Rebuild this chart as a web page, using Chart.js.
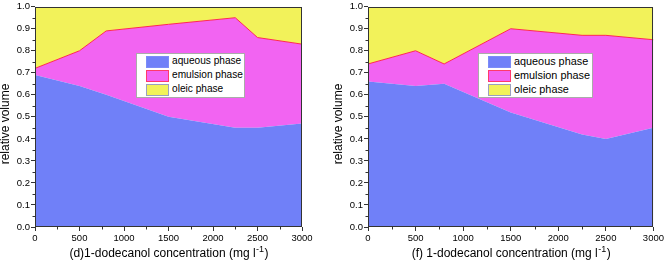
<!DOCTYPE html>
<html>
<head>
<meta charset="utf-8">
<script src="https://cdn.jsdelivr.net/npm/chart.js@4.4.0/dist/chart.umd.min.js"></script>
<style>
  body { margin: 0; background: #fff; }
  .panel { position: absolute; top: 0; width: 333px; height: 266px; }
  .legend { position: absolute; top: 53px; height: 43px; background: #fff; border: 1px solid #aaa;
            font-family: 'Liberation Sans', Arial, sans-serif; color: #000; }
  .legend .row { position: absolute; left: 9px; height: 12px; white-space: nowrap; }
  .legend .sw { position: absolute; left: 0; top: 0; width: 21px; height: 10px; border: 1px solid; }
  .legend .txt { position: absolute; top: -2px; line-height: 14px; }
</style>
</head>
<body>
<div class="panel" id="panelD" style="left:0"><canvas id="chartD"></canvas></div>
<div class="panel" id="panelF" style="left:333px"><canvas id="chartF"></canvas></div>
<script>
// 1-dodecanol concentration (mg/l)
const concentration = [0, 500, 800, 1500, 2250, 2500, 3000];

// (d): boundaries of the stacked phases (relative volume)
const aqueousD     = [0.69, 0.64, 0.60, 0.50, 0.45, 0.45, 0.47];
const emulsionTopD = [0.72, 0.80, 0.89, 0.92, 0.95, 0.86, 0.83];

// (f)
const aqueousF     = [0.66, 0.64, 0.65, 0.52, 0.42, 0.40, 0.45];
const emulsionTopF = [0.74, 0.80, 0.74, 0.90, 0.87, 0.87, 0.85];

const oleicTop = [1, 1, 1, 1, 1, 1, 1];

const phaseNames = ['aqueous phase', 'emulsion phase', 'oleic phase'];
const phaseColors = ['#7080f8', '#f264f2', '#f2f25a'];
const swatchBorders = ['#7c8cf8', '#ff3a6a', '#9aa0c0'];

const FONT = "'Liberation Sans', Arial, sans-serif";

function pts(ys) {
    return concentration.map((c, i) => ({x: c, y: ys[i]}));
}

// frame, minor ticks, axis titles (with superscript)
const decorPlugin = {
    id: 'decor',
    afterDraw(chart, args, opts) {
        const {ctx, chartArea: a, scales: {x, y}} = chart;
        ctx.save();
        ctx.strokeStyle = '#333';
        ctx.lineWidth = 1;
        ctx.beginPath();
        for (let v = 250; v < 3000; v += 500) {
            const px = Math.round(x.getPixelForValue(v)) + 0.5;
            ctx.moveTo(px, a.bottom); ctx.lineTo(px, a.bottom + 2.5);
        }
        for (let v = 0.05; v < 1; v += 0.1) {
            const py = Math.round(y.getPixelForValue(v)) + 0.5;
            ctx.moveTo(a.left, py); ctx.lineTo(a.left - 2.5, py);
        }
        ctx.stroke();
        ctx.strokeRect(Math.round(a.left) + 0.5, Math.round(a.top) + 0.5,
            Math.round(a.right - a.left) - 1, Math.round(a.bottom - a.top) - 1);

        ctx.fillStyle = '#000';
        // y title
        ctx.save();
        ctx.translate(6, 124);
        ctx.rotate(-Math.PI / 2);
        ctx.font = '12px ' + FONT;
        ctx.textAlign = 'center';
        ctx.textBaseline = 'middle';
        ctx.fillText('relative volume', 0, 0);
        ctx.restore();

        // x title
        const main = opts.xTitle + ' (mg l';
        const sup = '-1';
        const close = ')';
        ctx.font = '12px ' + FONT;
        const w1 = ctx.measureText(main).width;
        const w3 = ctx.measureText(close).width;
        ctx.font = '9px ' + FONT;
        const w2 = ctx.measureText(sup).width;
        let tx = (a.left + a.right) / 2 - (w1 + w2 + w3) / 2;
        const base = 257;
        ctx.textBaseline = 'alphabetic';
        ctx.textAlign = 'left';
        ctx.font = '12px ' + FONT;
        ctx.fillText(main, tx, base);
        ctx.font = '9px ' + FONT;
        ctx.fillText(sup, tx + w1 + 0.5, base - 5);
        ctx.font = '12px ' + FONT;
        ctx.fillText(close, tx + w1 + w2 + 1, base);
        ctx.restore();
    }
};

function makeChart(id, aqueous, emulsionTop, xTitle, padRight) {
    return new Chart(document.getElementById(id), {
        type: 'line',
        data: {
            datasets: [
                {label: phaseNames[0], data: pts(aqueous), backgroundColor: phaseColors[0],
                 borderWidth: 0, fill: 'origin'},
                {label: phaseNames[1], data: pts(emulsionTop), backgroundColor: phaseColors[1],
                 borderColor: '#ff2a50', borderWidth: 1, fill: '-1'},
                {label: phaseNames[2], data: pts(oleicTop), backgroundColor: phaseColors[2],
                 borderWidth: 0, fill: '-1'}
            ]
        },
        options: {
            responsive: false,
            animation: false,
            events: [],
            elements: {point: {radius: 0}, line: {tension: 0}},
            layout: {padding: {left: 0, top: 6, right: padRight, bottom: 0}},
            plugins: {
                legend: {display: false},
                tooltip: {enabled: false},
                decor: {xTitle: xTitle}
            },
            scales: {
                x: {
                    type: 'linear', min: 0, max: 3000,
                    ticks: {stepSize: 500, maxRotation: 0, padding: 2, color: '#000',
                            font: {size: 9.5, family: FONT},
                            callback: v => String(v)},
                    grid: {drawOnChartArea: false, tickLength: 4, color: '#333'},
                    border: {display: false},
                    afterFit: s => { s.height = 39; }
                },
                y: {
                    min: 0, max: 1,
                    ticks: {stepSize: 0.1, padding: 1, color: '#000',
                            font: {size: 9.5, family: FONT},
                            callback: v => v.toFixed(1)},
                    grid: {drawOnChartArea: false, tickLength: 4, color: '#333'},
                    border: {display: false},
                    afterFit: s => { s.width = 35; }
                }
            }
        },
        plugins: [decorPlugin]
    });
}

// font size that makes the longest entry as wide as in the picture
function fitSize(text, target) {
    const c = document.createElement('canvas').getContext('2d');
    c.font = '10px ' + FONT;
    return 10 * target / c.measureText(text).width;
}

function makeLegend(panelId, left, width, textLeft, textWidth) {
    const box = document.createElement('div');
    box.className = 'legend';
    box.style.left = left + 'px';
    box.style.width = width + 'px';
    box.style.fontSize = fitSize(phaseNames[1], textWidth).toFixed(2) + 'px';
    phaseNames.forEach((name, i) => {
        const row = document.createElement('div');
        row.className = 'row';
        row.style.top = (2 + i * 14) + 'px';
        const sw = document.createElement('div');
        sw.className = 'sw';
        sw.style.background = phaseColors[i];
        sw.style.borderColor = swatchBorders[i];
        const txt = document.createElement('span');
        txt.className = 'txt';
        txt.style.left = textLeft + 'px';
        txt.textContent = name;
        row.appendChild(sw);
        row.appendChild(txt);
        box.appendChild(row);
    });
    document.getElementById(panelId).appendChild(box);
}

document.getElementById('chartD').width = 333;
document.getElementById('chartD').height = 266;
document.getElementById('chartF').width = 333;
document.getElementById('chartF').height = 266;

makeChart('chartD', aqueousD, emulsionTopD, '(d)1-dodecanol concentration', 31);
makeChart('chartF', aqueousF, emulsionTopF, '(f) 1-dodecanol concentration', 11);

makeLegend('panelD', 136, 107, 26, 71);
makeLegend('panelF', 145, 113, 26, 76);
</script>
</body>
</html>
